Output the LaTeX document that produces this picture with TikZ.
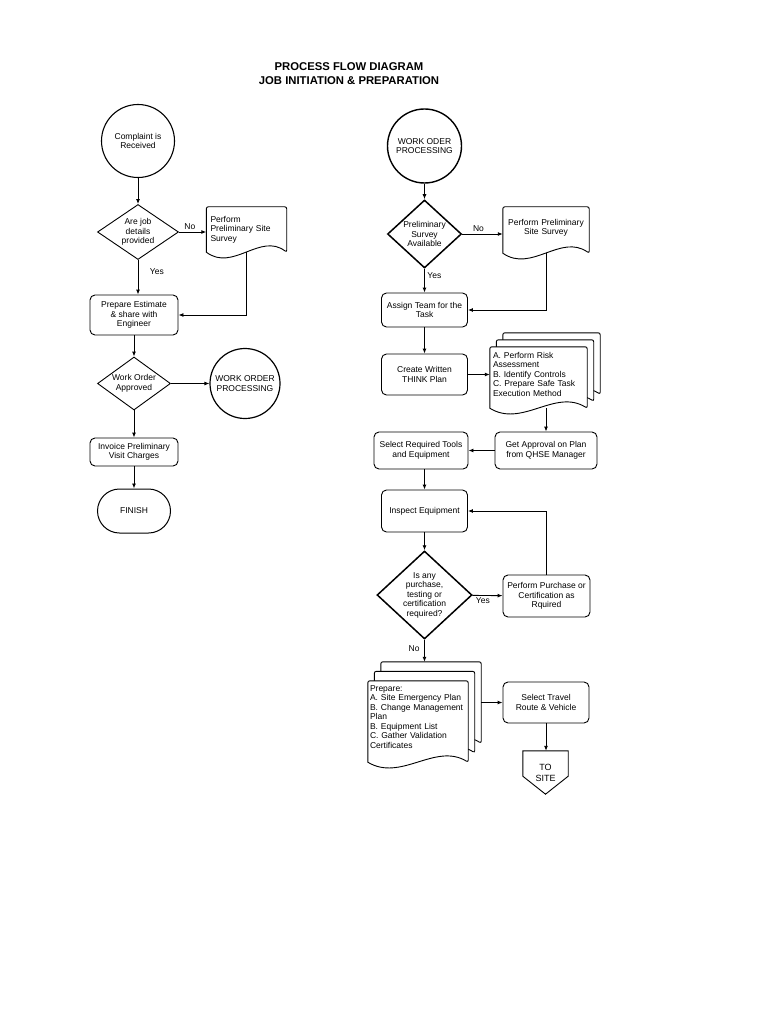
\documentclass[tikz,border=0pt]{standalone}
\usepackage{fontspec}
\setmainfont{Liberation Sans}
\usetikzlibrary{arrows.meta,positioning,calc,shapes.geometric,backgrounds}

\begin{document}
\begin{tikzpicture}[
  x=1pt, y=1pt,
  every node/.style={font=\fontsize{8.5}{9.5}\selectfont},
  box/.style={draw,rounded corners=5pt,align=center,inner sep=2pt,line width=0.9pt},
  dec/.style={draw,diamond,align=center,inner sep=0pt,line width=0.9pt},
  circ/.style={draw,circle,align=center,inner sep=0pt,line width=1.1pt},
  term/.style={draw,rounded corners=22pt,align=center,line width=1pt},
  doc/.style={align=left,inner xsep=4pt,inner ysep=2pt},
  lbl/.style={inner sep=1.5pt},
  arrow/.style={-{Latex[length=5pt,width=4pt]},line width=0.9pt},
  sheet/.style={draw,fill=white,line width=0.9pt}
]
\useasboundingbox (0,0) rectangle (768,-1024);
\begin{scope}[on background layer]
\fill[white] (0,0) rectangle (768,-1024);
\end{scope}

\node[font=\fontsize{11.3}{14}\selectfont\bfseries,align=center] (title) at (349,-74) {PROCESS FLOW DIAGRAM\\JOB INITIATION \& PREPARATION};

% left column
\node[circ,minimum size=73pt] (start) at (138,-141) {Complaint is\\Received};
\node[dec,aspect=1.47,minimum width=81pt,minimum height=55pt] (jobq) at (138,-232) {Are job\\details\\provided};
\node[doc,text width=72pt,minimum height=45pt] (survL) at (246.5,-229.5) {Perform\\Preliminary Site\\Survey};
\node[box,minimum width=88pt,minimum height=40pt] (est) at (134,-315) {Prepare Estimate\\\& share with\\Engineer};
\node[dec,aspect=1.38,minimum width=73pt,minimum height=53pt] (woq) at (134,-383.5) {Work Order\\Approved};
\node[circ,line width=1.2pt,minimum size=70pt] (wopL) at (245,-383.5) {WORK ORDER\\PROCESSING};
\node[box,minimum width=88pt,minimum height=28pt] (inv) at (134,-452) {Invoice Preliminary\\Visit Charges};
\node[term,minimum width=73pt,minimum height=44pt] (fin) at (134,-511) {FINISH};

% right column
\node[circ,line width=1.4pt,minimum size=74pt] (wop) at (424.5,-146) {WORK ODER\\PROCESSING};
\node[dec,line width=1.5pt,aspect=1.06,minimum width=74pt,minimum height=68pt] (survq) at (424.5,-234) {Preliminary\\Survey\\Available};
\node[doc,align=center,text width=80pt,inner xsep=3pt,minimum height=46pt] (survR) at (546,-230) {Perform Preliminary\\Site Survey\\[-3pt]\mbox{}};
\node[box,minimum width=86pt,minimum height=34pt] (team) at (424.5,-310) {Assign Team for the\\Task};
\node[box,minimum width=86pt,minimum height=41pt] (think) at (424.5,-374.5) {Create Written\\THINK Plan};
\node[doc,text width=91pt,inner xsep=3pt,minimum height=61pt] (risk) at (538.5,-377.5) {A. Perform Risk\\Assessment\\B. Identify Controls\\C. Prepare Safe Task\\Execution Method\\[-3pt]\mbox{}};
\node[box,minimum width=102pt,minimum height=37pt] (appr) at (546,-450.5) {Get Approval on Plan\\from QHSE Manager};
\node[box,minimum width=94pt,minimum height=37pt] (tools) at (421,-450.5) {Select Required Tools\\and Equipment};
\node[box,minimum width=86pt,minimum height=42pt] (insp) at (424.5,-511) {Inspect Equipment};
\node[dec,line width=1.5pt,aspect=1.07,minimum width=95pt,minimum height=88pt] (buyq) at (424.5,-595) {Is any\\purchase,\\testing or\\certification\\required?};
\node[box,minimum width=87pt,minimum height=42pt] (buy) at (546.5,-596) {Perform Purchase or\\Certification as\\Rquired};
\node[doc,text width=96pt,inner xsep=2pt,minimum height=81pt] (prep) at (418,-721.5) {Prepare:\\A. Site Emergency Plan\\B. Change Management\\Plan\\B. Equipment List\\C. Gather Validation\\Certificates\\[0pt]\mbox{}};
\node[box,minimum width=86pt,minimum height=41pt] (route) at (546,-702.5) {Select Travel\\Route \& Vehicle};
\node[inner sep=0pt,minimum width=45pt,minimum height=43pt,font=\fontsize{9}{11}\selectfont,align=center] (site) at (545.5,-772.5) {TO\\SITE};
\draw[line width=0.9pt] (site.north west) -- (site.north east) -- ([yshift=18pt]site.south east) -- (site.south) -- ([yshift=18pt]site.south west) -- cycle;

% document sheets
\begin{scope}[on background layer]
\foreach \n/\dx/\dy/\k in {survL/0/0/0, survR/0/0/0, risk/6.5/7/2, risk/6.5/7/1, risk/6.5/7/0, prep/6.5/9.5/2, prep/6.5/9.5/1, prep/6.5/9.5/0}
  \draw[sheet,rounded corners=2pt] ($(\n.south west)+(\k*\dx,\k*\dy)$) -- ($(\n.north west)+(\k*\dx,\k*\dy)$) -- ($(\n.north east)+(\k*\dx,\k*\dy)$) -- ($(\n.south east)+(\k*\dx,\k*\dy)$) [sharp corners]
    .. controls ($(\n.south east)!0.33!(\n.south west)+(\k*\dx,\k*\dy+20)$) and ($(\n.south east)!0.67!(\n.south west)+(\k*\dx,\k*\dy-20)$) .. ($(\n.south west)+(\k*\dx,\k*\dy)$) -- cycle;
\end{scope}
\coordinate (prepTop) at ($(prep.north)+(0,19)$);
\coordinate (prepRight) at ($(prep.east)+(13,0)$);

% left connectors
\draw[arrow] (start) -- (jobq);
\draw[arrow] (jobq.east) -- node[lbl,above,pos=0.4] {No} (jobq.east -| survL.west);
\draw[arrow] (jobq.south) -- node[lbl,right=10pt,pos=0.35] {Yes} (jobq.south |- est.north);
\draw[arrow] (survL.south) |- (est.east);
\draw[arrow] (est) -- (woq);
\draw[arrow] (woq) -- (wopL);
\draw[arrow] (woq) -- (inv);
\draw[arrow] (inv) -- (fin);

% right connectors
\draw[arrow] (wop) -- (survq);
\draw[arrow] (survq.east) -- node[lbl,above,pos=0.4] {No} (survq.east -| survR.west);
\draw[arrow] (survq) -- node[lbl,right=1pt,pos=0.3] {Yes} (team);
\draw[arrow] (survR.south) |- (team.east);
\draw[arrow] (team) -- (think);
\draw[arrow] (think.east) -- (think.east -| risk.west);
\draw[arrow] (appr.north |- risk.south) -- (appr.north);
\draw[arrow] (appr) -- (tools);
\draw[arrow] (tools.south -| insp.north) -- (insp.north);
\draw[arrow] (insp) -- (buyq);
\draw[arrow] (buyq) -- node[lbl,below,pos=0.35] {Yes} (buy);
\draw[arrow] (buy.north) |- (insp.east);
\draw[arrow] (buyq.south) -- node[lbl,left=3pt,pos=0.4] {No} (buyq.south |- prepTop);
\draw[arrow] (prepRight |- route.west) -- (route.west);
\draw[arrow] (route.south) -- (route.south |- site.north);
\end{tikzpicture}
\end{document}
